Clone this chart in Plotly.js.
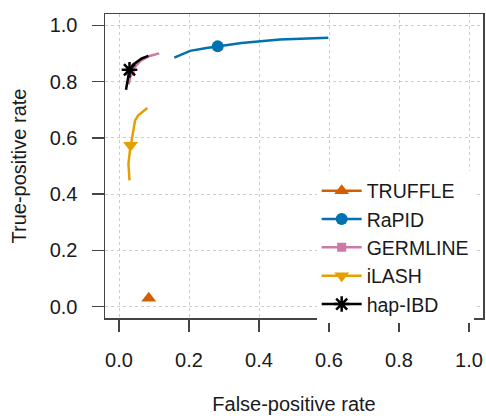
<!DOCTYPE html>
<html>
<head>
<meta charset="utf-8">
<script src="https://cdn.plot.ly/plotly-3.0.1.min.js"></script>
<style>html,body{margin:0;padding:0;background:#fff;}#chart{width:486px;height:416px;}</style>
</head>
<body>
<div id="chart"></div>
<script>
// Data
const truffleFPR = [0.085];
const truffleTPR = [0.03];

const rapidFPR = [0.158, 0.203, 0.25, 0.282, 0.35, 0.46, 0.598];
const rapidTPR = [0.885, 0.909, 0.919, 0.925, 0.937, 0.949, 0.956];
const rapidMarkerFPR = [0.282];
const rapidMarkerTPR = [0.925];

const germlineFPR = [0.028, 0.031, 0.04, 0.06, 0.085, 0.115];
const germlineTPR = [0.79, 0.81, 0.845, 0.872, 0.89, 0.90];
const germlineMarkerFPR = [0.032];
const germlineMarkerTPR = [0.838];

const ilashFPR = [0.03, 0.028, 0.027, 0.033, 0.036, 0.046, 0.055, 0.081];
const ilashTPR = [0.449, 0.49, 0.508, 0.574, 0.59, 0.662, 0.68, 0.706];
const ilashMarkerFPR = [0.033];
const ilashMarkerTPR = [0.574];

const hapFPR = [0.02, 0.024, 0.027, 0.03, 0.04, 0.05, 0.065, 0.084];
const hapTPR = [0.771, 0.80, 0.828, 0.842, 0.86, 0.87, 0.882, 0.891];
const hapMarkerFPR = [0.03];
const hapMarkerTPR = [0.842];

const tickVals = [0, 0.2, 0.4, 0.6, 0.8, 1.0];
const tickText = ["0.0", "0.2", "0.4", "0.6", "0.8", "1.0"];

const cTruffle = '#D55E00', cRapid = '#0072B2', cGerm = '#CC79A7', cIlash = '#E69F00', cHap = '#000000';

const traces = [
  {x: truffleFPR, y: truffleTPR, name: 'TRUFFLE', mode: 'lines+markers',
   line: {color: cTruffle, width: 2.5}, marker: {symbol: 'triangle-up', size: 13, color: cTruffle}},
  {x: rapidFPR, y: rapidTPR, name: 'RaPID', mode: 'lines', legendgroup: 'r', showlegend: false,
   line: {color: cRapid, width: 2.5}},
  {x: rapidMarkerFPR, y: rapidMarkerTPR, name: 'RaPID', mode: 'lines+markers', legendgroup: 'r',
   line: {color: cRapid, width: 2.5}, marker: {symbol: 'circle', size: 12, color: cRapid}},
  {x: germlineFPR, y: germlineTPR, name: 'GERMLINE', mode: 'lines', legendgroup: 'g', showlegend: false,
   line: {color: cGerm, width: 2.5}},
  {x: germlineMarkerFPR, y: germlineMarkerTPR, name: 'GERMLINE', mode: 'lines+markers', legendgroup: 'g',
   line: {color: cGerm, width: 2.5}, marker: {symbol: 'square', size: 9, color: cGerm}},
  {x: ilashFPR, y: ilashTPR, name: 'iLASH', mode: 'lines', legendgroup: 'i', showlegend: false,
   line: {color: cIlash, width: 2.5}},
  {x: ilashMarkerFPR, y: ilashMarkerTPR, name: 'iLASH', mode: 'lines+markers', legendgroup: 'i',
   line: {color: cIlash, width: 2.5}, marker: {symbol: 'triangle-down', size: 13, color: cIlash}},
  {x: hapFPR, y: hapTPR, name: 'hap-IBD', mode: 'lines', legendgroup: 'h', showlegend: false,
   line: {color: cHap, width: 2.5}},
  {x: hapMarkerFPR, y: hapMarkerTPR, name: 'hap-IBD', mode: 'lines+markers', legendgroup: 'h',
   line: {color: cHap, width: 2.5}, marker: {symbol: 'asterisk-open', size: 13, color: cHap, line: {color: cHap, width: 2.5}}}
];

const axisCommon = {
  range: [-0.04, 1.04], tickmode: 'array', tickvals: tickVals, ticktext: tickText,
  showgrid: true, gridcolor: '#cccccc', griddash: 'dot', gridwidth: 1,
  zeroline: false, showline: true, mirror: true, linecolor: '#444', linewidth: 1.5,
  ticks: 'outside', ticklen: 12, tickwidth: 1.5, tickcolor: '#444',
  tickfont: {family: 'Liberation Sans, Arial, sans-serif', size: 20, color: '#1a1a1a'},
  fixedrange: true
};

const layout = {
  width: 486, height: 416,
  margin: {l: 105, r: 3, t: 14, b: 98},
  paper_bgcolor: '#fff', plot_bgcolor: '#fff',
  font: {family: 'Liberation Sans, Arial, sans-serif', size: 19, color: '#1a1a1a'},
  showlegend: true,
  legend: {x: 0.56, y: 0.482, xanchor: 'left', yanchor: 'top', bgcolor: '#fff', borderwidth: 0,
           font: {size: 19.5, color: '#1a1a1a'}, tracegroupgap: 0, itemwidth: 40},
  xaxis: Object.assign({}, axisCommon, {
    ticklabelstandoff: 11,
    title: {text: 'False-positive rate', font: {size: 20, color: '#1a1a1a'}, standoff: 27}
  }),
  yaxis: Object.assign({}, axisCommon, {
    ticklabelstandoff: 10,
    title: {text: 'True-positive rate', font: {size: 20, color: '#1a1a1a'}, standoff: 17}
  })
};

Plotly.newPlot('chart', traces, layout, {displayModeBar: false, staticPlot: true});
</script>
</body>
</html>
